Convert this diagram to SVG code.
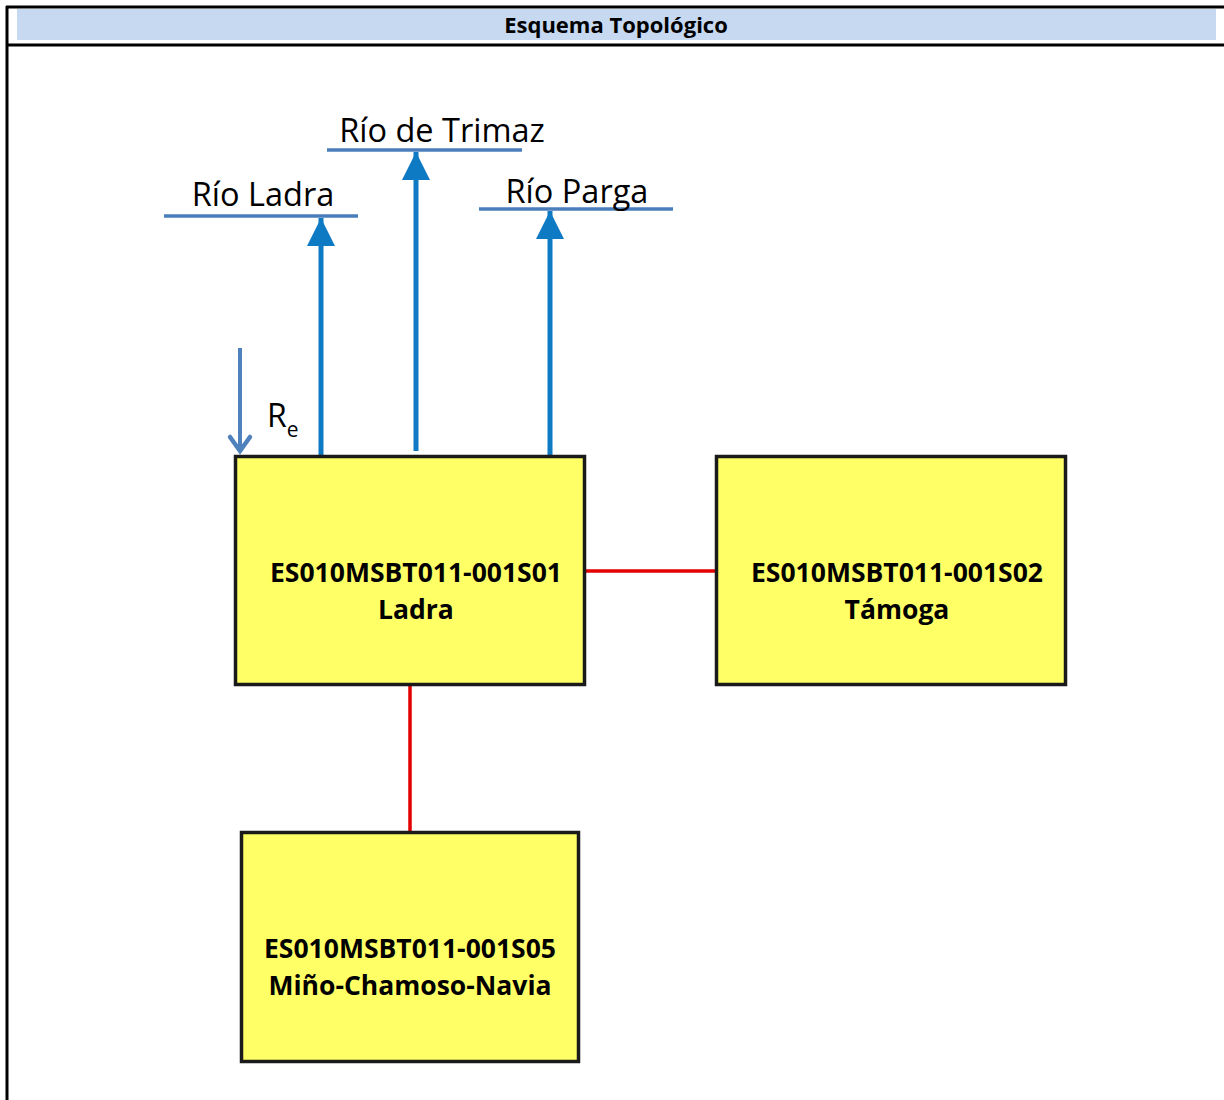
<svg xmlns="http://www.w3.org/2000/svg" width="1224" height="1100" viewBox="0 0 1224 1100">
<defs>
<style>
.frame{stroke:#000;stroke-width:3;fill:none}
.box{fill:#FFFF66;stroke:#1a1a1a;stroke-width:3.5}
.lbl{font-family:"Open Sans","Liberation Sans",sans-serif;font-weight:bold;font-size:26.5px;fill:#000;text-anchor:middle}
.title{font-family:"Open Sans","Liberation Sans",sans-serif;font-weight:bold;font-size:22px;fill:#000;text-anchor:middle}
.river{font-family:"Open Sans","Liberation Sans",sans-serif;font-size:32.5px;fill:#000;text-anchor:middle}
.rline{stroke:#4A7EBB;stroke-width:3.5}
.flow{stroke:#0E7AC4;stroke-width:5;fill:none}
.link{stroke:#E30000;stroke-width:3.5;fill:none}
</style>
<marker id="ah" viewBox="0 0 10 10" refX="10" refY="5" markerWidth="5.6" markerHeight="5.6" markerUnits="strokeWidth" orient="auto">
<path d="M0,0 L10,5 L0,10 z" fill="#0E7AC4"/>
</marker>
</defs>
<rect width="1224" height="1100" fill="#fff"/>
<g id="header">
<rect x="17" y="9" width="1199" height="31" fill="#C6D9F1"/>
<line class="frame" x1="6" y1="7" x2="1224" y2="7"/>
<line class="frame" x1="6" y1="45" x2="1224" y2="45"/>
<line class="frame" x1="7" y1="6" x2="7" y2="1100"/>
<text class="title" x="616" y="33">Esquema Topológico</text>
</g>
<g id="rivers">
<g id="rio-ladra"><line class="rline" x1="164" y1="216" x2="358" y2="216"/><text class="river" x="263" y="206">Río Ladra</text></g>
<g id="rio-trimaz"><line class="rline" x1="327" y1="150" x2="522" y2="150"/><text class="river" x="442" y="142">Río de Trimaz</text></g>
<g id="rio-parga"><line class="rline" x1="479" y1="209" x2="673" y2="209"/><text class="river" x="577" y="203">Río Parga</text></g>
</g>
<g id="connectors">
<line class="flow" x1="321" y1="456" x2="321" y2="218" marker-end="url(#ah)"/>
<line class="flow" x1="416" y1="451" x2="416" y2="152" marker-end="url(#ah)"/>
<line class="flow" x1="550" y1="456" x2="550" y2="211" marker-end="url(#ah)"/>
<line x1="240" y1="348" x2="240" y2="451" stroke="#4F81BD" stroke-width="4"/>
<polyline points="230,437 240,451 250,437" fill="none" stroke="#4F81BD" stroke-width="4.5" stroke-linecap="round"/>
<line class="link" x1="585" y1="571" x2="716" y2="571"/>
<line class="link" x1="410" y1="685" x2="410" y2="832"/>
</g>
<g id="re-label">
<text font-family="'Open Sans','Liberation Sans',sans-serif" font-size="32" x="267" y="427">R<tspan font-size="21" dy="10">e</tspan></text>
</g>
<g id="node-ladra">
<rect class="box" x="235.5" y="456.5" width="349" height="228"/>
<text class="lbl" x="416" y="582">ES010MSBT011-001S01</text>
<text class="lbl" x="416" y="619">Ladra</text>
</g>
<g id="node-tamoga">
<rect class="box" x="716.5" y="456.5" width="349" height="228"/>
<text class="lbl" x="897" y="582">ES010MSBT011-001S02</text>
<text class="lbl" x="897" y="619">Támoga</text>
</g>
<g id="node-mino">
<rect class="box" x="241.5" y="832.5" width="337" height="229"/>
<text class="lbl" x="410" y="958">ES010MSBT011-001S05</text>
<text class="lbl" x="410" y="995">Miño-Chamoso-Navia</text>
</g>
</svg>
